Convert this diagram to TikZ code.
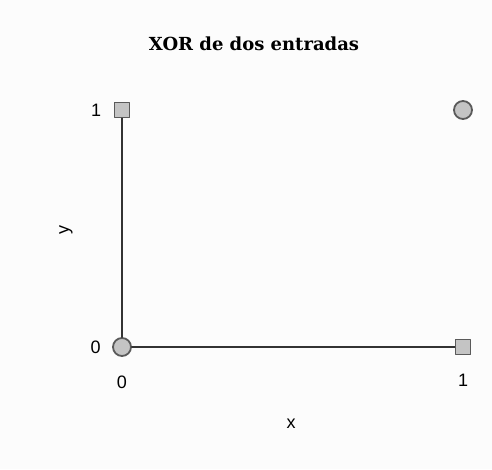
\documentclass[tikz,border=0pt]{standalone}
\usepackage{fontspec}
\setmainfont{Liberation Sans}
\newfontfamily\titlefont{DejaVu Serif}
\usetikzlibrary{positioning}
\definecolor{xorPaper}{HTML}{FCFCFC}
\definecolor{xorFill}{HTML}{C4C4C4}
\definecolor{xorEdge}{HTML}{5A5A5A}
\definecolor{xorLine}{HTML}{333333}

\begin{document}
\begin{tikzpicture}[x=1pt,y=-1pt,line cap=round,line join=round]
\path[fill=xorPaper] (0,0) rectangle (492,469);
\tikzset{sqpt/.style={draw=xorEdge,fill=xorFill,line width=1.8pt,minimum size=15pt,inner sep=0pt},
  rdpt/.style={circle,draw=xorEdge,fill=xorFill,line width=1.8pt,minimum size=18pt,inner sep=0pt},
  axis/.style={draw=xorLine,line width=1.7pt},
  tick/.style={font=\fontsize{18}{20}\selectfont,text=black}}
\node[font=\titlefont\bfseries\fontsize{18}{20}\selectfont] (title) at (254,44) {XOR de dos entradas};
% points
\node[rdpt] (p00) at (122,347) {};
\node[sqpt] (p01) at (122,110) {};
\node[sqpt] (p10) at (463,347) {};
\node[rdpt] (p11) at (463,110) {};
\draw[axis] (p01) -- (p00);
\draw[axis] (p00) -- (p10);
% labels
\node[tick,left=9pt of p01] (ly1) {1};
\node[tick,left=8pt of p00] (ly0) {0};
\node[tick,below=15pt of p00] (lx0) {0};
\node[tick,below=15pt of p10] (lx1) {1};
\node[tick,rotate=90] (ylab) at (66,230) {y};
\node[tick] (xlab) at (291,424) {x};
\end{tikzpicture}
\end{document}
